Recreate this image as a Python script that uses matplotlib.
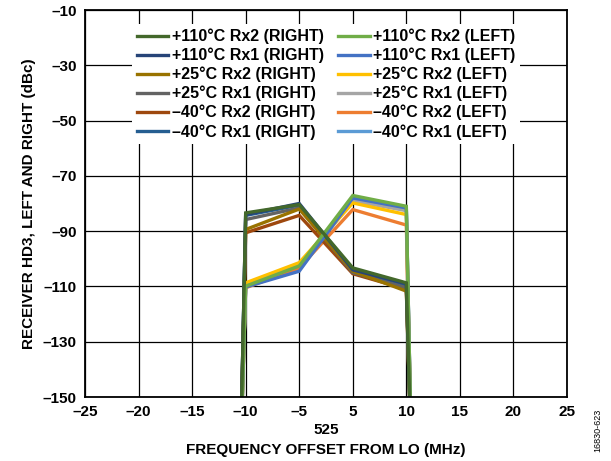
import matplotlib
matplotlib.use("Agg")
import matplotlib.pyplot as plt
import numpy as np

plt.rcParams['font.family'] = ['Liberation Sans', 'DejaVu Sans']
plt.rcParams['font.weight'] = 'bold'
plt.rcParams['axes.labelweight'] = 'bold'

# x axis categories (offset from LO, MHz)
x_ticks = [-25, -20, -15, -10, -5, 5, 10, 15, 20, 25]
x_tick_labels = ['–25', '–20', '–15', '–10', '–5', '5', '10', '15', '20', '25']
y_ticks = [-150, -130, -110, -90, -70, -50, -30, -10]

# measured offsets; outer points fall off the bottom of the chart
freq = [-10.5, -10, -5, 5, 10, 10.5]

right_labels = ['+110°C Rx2 (RIGHT)', '+110°C Rx1 (RIGHT)', '+25°C Rx2 (RIGHT)',
                '+25°C Rx1 (RIGHT)', '–40°C Rx2 (RIGHT)', '–40°C Rx1 (RIGHT)']
right_colors = ['#43682B', '#264478', '#997300', '#636363', '#9E480E', '#255E91']
right_values = [
    [-175, -83.4, -80.4, -103.3, -108.7, -175],
    [-175, -84.0, -80.0, -104.0, -109.0, -175],
    [-175, -89.4, -82.0, -104.5, -111.7, -175],
    [-175, -85.8, -81.6, -105.0, -110.5, -175],
    [-175, -90.6, -84.3, -105.4, -111.0, -175],
    [-175, -84.3, -80.6, -104.2, -109.5, -175],
]

left_labels = ['+110°C Rx2 (LEFT)', '+110°C Rx1 (LEFT)', '+25°C Rx2 (LEFT)',
               '+25°C Rx1 (LEFT)', '–40°C Rx2 (LEFT)', '–40°C Rx1 (LEFT)']
left_colors = ['#70AD47', '#4472C4', '#FFC000', '#A5A5A5', '#ED7D31', '#5B9BD5']
left_values = [
    [-175, -109.9, -102.6, -77.1, -81.0, -175],
    [-175, -110.2, -104.5, -78.0, -81.6, -175],
    [-175, -108.7, -101.4, -79.8, -84.0, -175],
    [-175, -109.2, -102.2, -79.0, -82.6, -175],
    [-175, -110.5, -103.3, -82.2, -87.8, -175],
    [-175, -110.0, -104.0, -78.6, -82.2, -175],
]

pos = np.interp(freq, x_ticks, np.arange(len(x_ticks)))

fig = plt.figure(figsize=(6.11, 4.61), dpi=100)
ax = fig.add_axes([85 / 611, 1 - 397 / 461, 482 / 611, 387 / 461])

lines = {}
# draw coolest first so the +110°C traces end up on top
for i in reversed(range(6)):
    lines['L', i], = ax.plot(pos, left_values[i], color=left_colors[i], lw=2.4,
                             label=left_labels[i], solid_joinstyle='miter')
    lines['R', i], = ax.plot(pos, right_values[i], color=right_colors[i], lw=2.4,
                             label=right_labels[i], solid_joinstyle='miter')

ax.set_xlim(0, len(x_ticks) - 1)
ax.set_ylim(-150, -10)
ax.set_xticks(np.arange(len(x_ticks)))
ax.set_xticklabels(x_tick_labels)
ax.set_yticks(y_ticks)
ax.set_yticklabels([str(v).replace('-', '–') for v in y_ticks])
ax.tick_params(length=0, labelsize=11, pad=6)
ax.grid(True, color='black', lw=0.9)
ax.set_axisbelow(True)
for s in ax.spines.values():
    s.set_linewidth(1.3)

ax.set_ylabel('RECEIVER HD3, LEFT AND RIGHT (dBc)', fontsize=11, labelpad=5)
ax.set_xlabel('FREQUENCY OFFSET FROM LO (MHz)', fontsize=11, labelpad=17)
ax.annotate('525', xy=(4.5, 0), xycoords=('data', 'axes fraction'),
            xytext=(0, -33), textcoords='offset pixels',
            ha='center', va='center', fontsize=11)

handles = [lines['R', i] for i in range(6)] + [lines['L', i] for i in range(6)]
leg = ax.legend(handles=handles, ncol=2, loc='upper center',
                bbox_to_anchor=(0.5, 0.985), fontsize=11.5, handlelength=2.0,
                handletextpad=0.2, columnspacing=0.9, labelspacing=0.22,
                borderpad=0.3, frameon=True, fancybox=False, framealpha=1)
leg.get_frame().set_edgecolor('none')

fig.text(598 / 611, 1 - 430 / 461, '16830-623', rotation=90, fontsize=6.5,
         fontweight='normal', ha='center', va='center')

fig.savefig('out.png', dpi=100)
